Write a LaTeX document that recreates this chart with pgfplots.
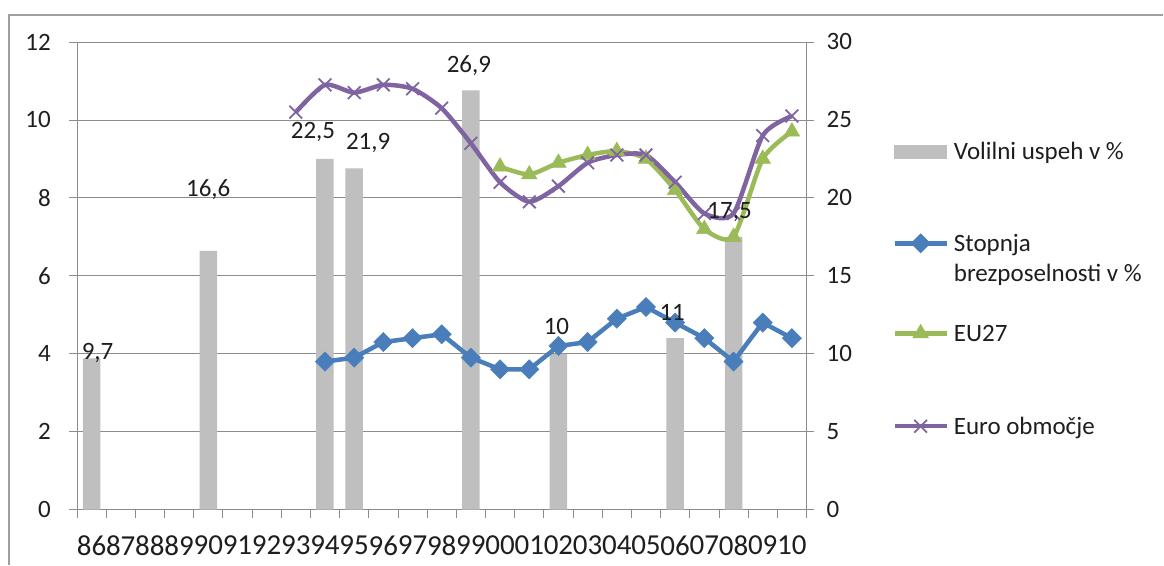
\documentclass[border=0pt]{standalone}
\usepackage{pgfplots}
\pgfplotsset{compat=1.18}
\usepackage{pgfplotstable}
\usepackage{fontspec}
\setmainfont{Carlito}
\definecolor{barcol}{RGB}{191,191,191}
\definecolor{bluec}{RGB}{74,126,187}
\definecolor{greenc}{RGB}{155,187,89}
\definecolor{purplec}{RGB}{128,100,162}
\definecolor{gridc}{RGB}{140,140,140}
\definecolor{txt}{RGB}{30,30,30}

\pgfplotstableread{
x y lab dx dy
0 9.7 9,7 6 5
4 16.6 16,6 0 61
8 22.5 22,5 -12 27
9 21.9 21,9 14 25
13 26.9 26,9 -2 25
16 10 10 -2 27
20 11 11 -3 26
22 17.5 17,5 -4 25
}\volitve

\pgfplotsset{common/.style={
  at={(77pt,55pt)}, anchor=south west, scale only axis,
  width=730pt, height=468pt, xmin=-0.5, xmax=24.5,
  tick align=outside, major tick length=8pt, minor tick length=8pt,
  axis line style={gridc, line width=0.8pt},
  tick style={gridc, line width=0.8pt},
  tick label style={font=\fontsize{25}{30}\selectfont, text=txt, inner sep=0pt},
  /pgf/number format/assume math mode=true,
}}

\begin{document}
\begin{tikzpicture}
\path (0,0) rectangle (1164pt,565pt);
\begin{axis}[common,
  ymin=0, ymax=30, ytick={0,5,...,30},
  axis y line*=right, axis x line*=bottom,
  ymajorgrids, grid style={gridc, line width=0.8pt},
  xtick={0,...,24},
  xticklabels={86,87,88,89,90,91,92,93,94,95,96,97,98,99,00,01,02,03,04,05,06,07,08,09,10},
  minor xtick={-0.5,0.5,...,24.5},
  major x tick style={draw=none},
  yticklabel style={xshift=12pt},
  xticklabel style={yshift=-18pt, font=\fontsize{29}{34}\selectfont},
  ybar, bar width=17.5pt,
]
\addplot[fill=barcol, draw=none] table[x=x, y=y] {\volitve};
\end{axis}

\begin{axis}[common,
  ymin=0, ymax=12, ytick={0,2,...,12},
  axis y line*=left, hide x axis,
  yticklabel style={xshift=-18pt},
  legend style={at={(1.11781,0.83333)}, anchor=north west, draw=none, fill=none,
    inner sep=0pt, outer sep=0pt, row sep=0pt, column sep=5pt,
    cells={anchor=base west}, font=\fontsize{25}{30}\selectfont, text=txt,
    nodes={inner sep=0pt, text depth=}},
  legend image code/.code={\draw[mark repeat=2,mark phase=2] plot coordinates {(0pt,8.5pt) (26pt,8.5pt) (52pt,8.5pt)};},
]
\addlegendimage{legend image code/.code={\fill[barcol] (0pt,2pt) rectangle (52pt,15pt);}}
\addlegendentry{Volilni uspeh v \%\rule[-52pt]{0pt}{92pt}}

\addplot[bluec, line width=4.5pt, mark=square*, mark size=6.8pt,
  mark options={rotate=45, fill=bluec, draw=bluec, line width=0.5pt}]
coordinates {(8,3.8) (9,3.9) (10,4.3) (11,4.4) (12,4.5) (13,3.9) (14,3.6) (15,3.6)
 (16,4.2) (17,4.3) (18,4.9) (19,5.2) (20,4.8) (21,4.4) (22,3.8) (23,4.8) (24,4.4)};
\addlegendentry{\begin{tabular}[t]{@{}l@{}}Stopnja\rule{0pt}{40pt}\\brezposelnosti v \%\rule[-20pt]{0pt}{20pt}\end{tabular}}

\addplot[greenc, line width=4.5pt, smooth, tension=0.4, mark=triangle*, mark size=9pt,
  mark options={fill=greenc, draw=greenc, line width=0.5pt}]
coordinates {(14,8.8) (15,8.6) (16,8.9) (17,9.1) (18,9.2) (19,9.0) (20,8.2) (21,7.2)
 (22,7.0) (23,9.0) (24,9.7)};
\addlegendentry{EU27\rule[-53pt]{0pt}{93pt}}

\addplot[purplec, line width=4.5pt, smooth, tension=0.4, mark=x, mark size=9pt,
  mark options={draw=purplec, line width=1.8pt}]
coordinates {(7,10.2) (8,10.9) (9,10.7) (10,10.9) (11,10.8) (12,10.3) (13,9.4) (14,8.4)
 (15,7.9) (16,8.3) (17,8.9) (18,9.1) (19,9.1) (20,8.4) (21,7.6) (22,7.6) (23,9.6) (24,10.1)};
\addlegendentry{Euro območje\rule{0pt}{40pt}}

% data labels of the bars (right-axis values shown on the 0-12 scale, 30/12 = 2.5)
\addplot[draw=none, forget plot,
  nodes near coords, point meta=explicit symbolic,
  visualization depends on={\thisrow{dx} \as \dx},
  visualization depends on={\thisrow{dy} \as \dy},
  every node near coord/.append style={anchor=center, xshift=\dx pt, yshift=\dy pt,
     inner sep=0pt, text=txt, font=\fontsize{25}{30}\selectfont},
] table[x=x, y expr=\thisrow{y}/2.5, meta=lab] {\volitve};
\end{axis}
\draw[gray!75, line width=1.5pt] (9pt,0pt) |- (1164pt,550pt);
\end{tikzpicture}
\end{document}
